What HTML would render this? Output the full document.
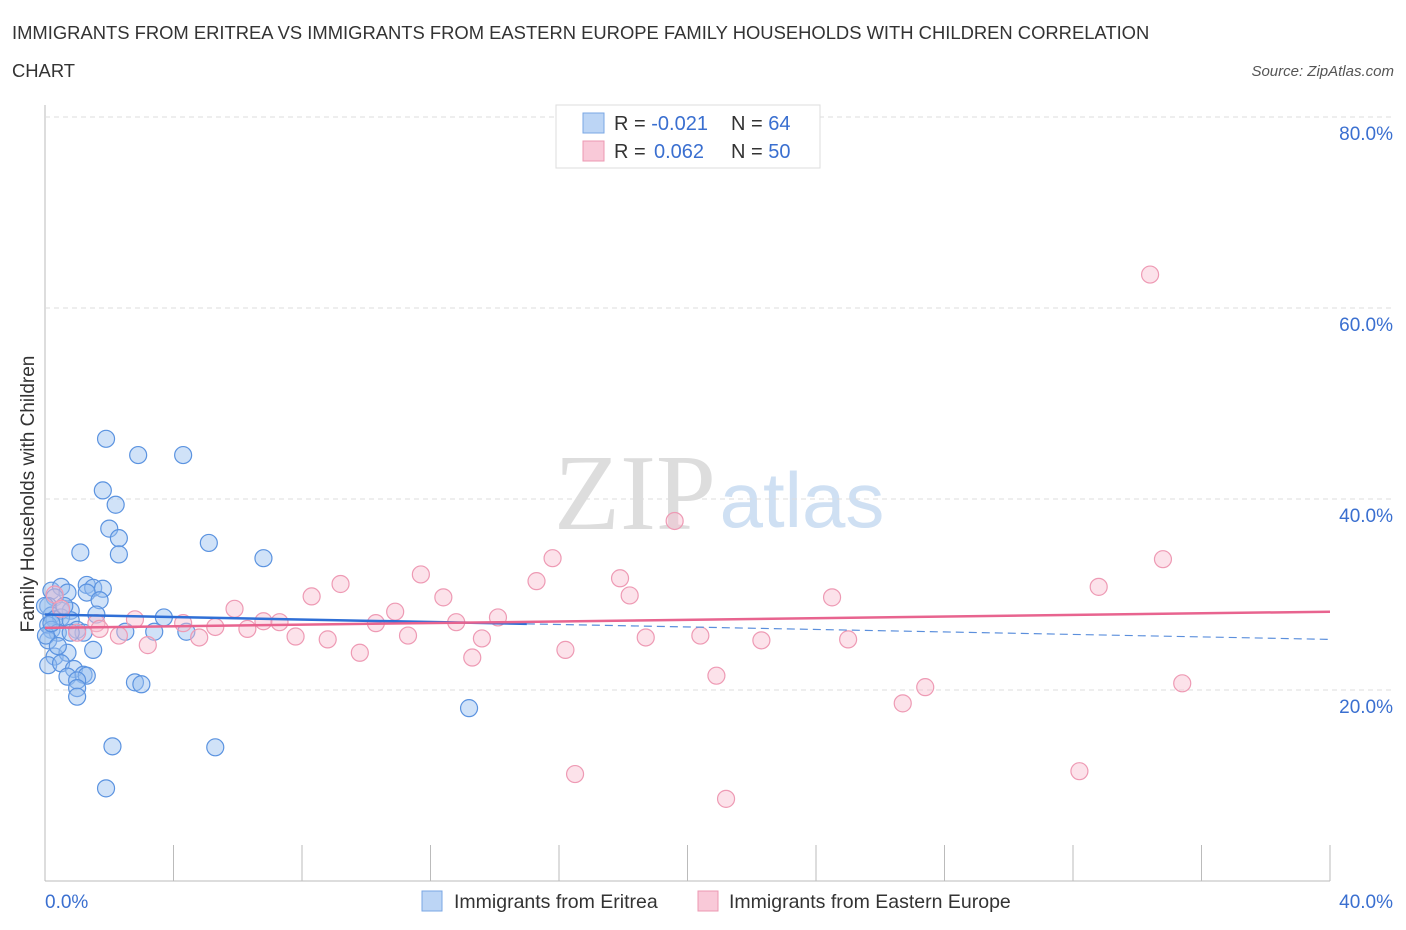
<!DOCTYPE html>
<html><head><meta charset="utf-8"><style>
body{margin:0;background:#fff;font-family:"Liberation Sans",sans-serif;}
#wrap{position:relative;width:1406px;height:930px;overflow:hidden;}
</style></head><body>
<div id="wrap">
<svg id="svg" width="1406" height="930" xmlns="http://www.w3.org/2000/svg" font-family="Liberation Sans, sans-serif">
<text x="12" y="39" font-size="18.4" fill="#333">IMMIGRANTS FROM ERITREA VS IMMIGRANTS FROM EASTERN EUROPE FAMILY HOUSEHOLDS WITH CHILDREN CORRELATION</text>
<text x="12" y="77" font-size="18.4" fill="#333">CHART</text>
<text x="1394" y="76" font-size="15" fill="#555" font-style="italic" text-anchor="end">Source: ZipAtlas.com</text>
<text x="635" y="529" font-size="108" fill="#ddd" font-family="Liberation Serif, serif" text-anchor="middle">ZIP</text>
<text x="802" y="527" font-size="78" fill="#cfe0f3" text-anchor="middle">atlas</text>
<text x="34" y="494" font-size="19" fill="#333" text-anchor="middle" transform="rotate(-90 34 494)">Family Households with Children</text>
<g id="grid"></g><g id="pts"></g><g id="trend"></g>
<g>
<rect x="556" y="105" width="264" height="63" fill="#fff" stroke="#ddd"/>
<rect x="583" y="113" width="21" height="20" fill="#bcd5f5" stroke="#7aa7e4"/>
<rect x="583" y="141" width="21" height="20" fill="#f9c9d8" stroke="#ec98b2"/>
<text x="614" y="130" font-size="20" fill="#333">R = <tspan fill="#3a6fd0">-0.021</tspan></text>
<text x="731" y="130" font-size="20" fill="#333">N = <tspan fill="#3a6fd0">64</tspan></text>
<text x="614" y="158" font-size="20" fill="#333">R = <tspan fill="#3a6fd0" x="654">0.062</tspan></text>
<text x="731" y="158" font-size="20" fill="#333">N = <tspan fill="#3a6fd0">50</tspan></text>
</g>
<g>
<rect x="422" y="891" width="20" height="20" fill="#bcd5f5" stroke="#7aa7e4"/>
<text x="454" y="908" font-size="19.5" fill="#333">Immigrants from Eritrea</text>
<rect x="698" y="891" width="20" height="20" fill="#f9c9d8" stroke="#ec98b2"/>
<text x="729" y="908" font-size="19.5" fill="#333">Immigrants from Eastern Europe</text>
</g>
</svg></div>
<script>
const yTicks=[20,40,60,80];
const xTickLabels=["0.0%","40.0%"];
const blueX=[1.9,2.9,4.3,1.8,2.2,2.0,2.3,5.1,1.1,2.3,6.8,0.2,0.5,0.7,1.3,1.5,1.8,1.3,1.7,0.3,0.1,0.5,0.8,1.6,3.7,0.2,0.3,0.5,0.8,1.0,1.2,0.1,0.2,0.4,0.8,2.5,3.4,4.4,1.5,0.1,0.3,0.7,0.1,0.5,0.9,0.7,1.2,1.3,1.0,1.0,1.0,2.8,3.0,13.2,2.1,5.3,1.9,0.0,0.03,0.6,0.4,0.2];
const blueY=[46.3,44.6,44.6,40.9,39.4,36.9,35.9,35.4,34.4,34.2,33.8,30.4,30.8,30.2,31.0,30.7,30.6,30.2,29.4,29.7,28.8,28.3,28.3,27.9,27.6,27.8,27.4,27.6,27.3,26.3,26.0,26.8,26.3,26.0,26.0,26.1,26.1,26.1,24.2,25.2,23.5,23.9,22.6,22.8,22.2,21.4,21.6,21.5,21.0,20.2,19.3,20.8,20.6,18.1,14.1,14.0,9.7,28.8,25.7,28.8,24.6,27.0];
const pinkX=[34.4,19.6,15.8,34.8,11.7,15.3,17.9,9.2,32.8,18.2,8.3,12.4,24.5,5.9,10.9,14.1,6.8,7.3,10.3,12.8,4.3,2.8,1.6,1.7,5.3,6.3,2.3,4.8,11.3,7.8,8.8,13.6,18.7,20.4,22.3,25.0,3.2,9.8,16.2,13.3,20.9,27.4,26.7,35.4,16.5,32.2,21.2,0.3,0.5,1.0];
const pinkY=[63.5,37.7,33.8,33.7,32.1,31.4,31.7,31.1,30.8,29.9,29.8,29.7,29.7,28.5,28.2,27.6,27.2,27.1,27.0,27.1,27.0,27.4,27.0,26.4,26.6,26.4,25.7,25.5,25.7,25.6,25.3,25.4,25.5,25.7,25.2,25.3,24.7,23.9,24.2,23.4,21.5,20.3,18.6,20.7,11.2,11.5,8.6,30.0,28.5,26.0];
const blueTrend=[27.9,25.3];
const pinkTrend=[26.5,28.2];
const X=v=>45+v/40*1285, Y=v=>881-v*9.55;
const NS="http://www.w3.org/2000/svg";
function mk(tag,at,parent){const e=document.createElementNS(NS,tag);for(const k in at)e.setAttribute(k,at[k]);parent.appendChild(e);return e;}
const grid=document.getElementById('grid');
mk('line',{x1:45,y1:105,x2:45,y2:881,stroke:'#bbb'},grid);
mk('line',{x1:45,y1:881,x2:1330,y2:881,stroke:'#bbb'},grid);
for(const t of yTicks){
 const l=mk('line',{x1:45,y1:Y(t),x2:1392,y2:Y(t),stroke:'#ddd','stroke-dasharray':'5,4'},grid);
 
 
 const tx=mk('text',{x:1393,y:Y(t)+23,'font-size':19,fill:'#3a6fd0','text-anchor':'end'},grid);
 tx.textContent=t.toFixed(1)+'%';
 
 
}
for(let i=0;i<=10;i++){const x=X(i*4);mk('line',{x1:x,y1:845,x2:x,y2:881,stroke:'#bbb'},grid);}
const xl0=mk('text',{x:45,y:908,'font-size':19,fill:'#3a6fd0'},grid);xl0.textContent=xTickLabels[0];


const xl1=mk('text',{x:1393,y:908,'font-size':19,fill:'#3a6fd0','text-anchor':'end'},grid);xl1.textContent=xTickLabels[1];


const pts=document.getElementById('pts');
blueX.forEach((v,i)=>{const c=mk('circle',{cx:X(v),cy:Y(blueY[i]),r:8.5,fill:'rgba(150,190,240,0.45)',stroke:'#5b93e0','stroke-width':1.2},pts);
 
 });
pinkX.forEach((v,i)=>{const c=mk('circle',{cx:X(v),cy:Y(pinkY[i]),r:8.5,fill:'rgba(248,190,208,0.45)',stroke:'#ee9ab4','stroke-width':1.2},pts);
 
 });
const tr=document.getElementById('trend');
const bAt=x=>blueTrend[0]+(blueTrend[1]-blueTrend[0])*x/40;
const b1=mk('line',{x1:X(0),y1:Y(bAt(0)),x2:X(15),y2:Y(bAt(15)),stroke:'#2f6fd6','stroke-width':2.5},tr);


const b2=mk('line',{x1:X(15),y1:Y(bAt(15)),x2:X(40),y2:Y(bAt(40)),stroke:'#5b8fdc','stroke-width':1.2,'stroke-dasharray':'8,5'},tr);


const p1=mk('line',{x1:X(0),y1:Y(pinkTrend[0]),x2:X(40),y2:Y(pinkTrend[1]),stroke:'#e8648f','stroke-width':2.5},tr);


</script>
</body></html>
